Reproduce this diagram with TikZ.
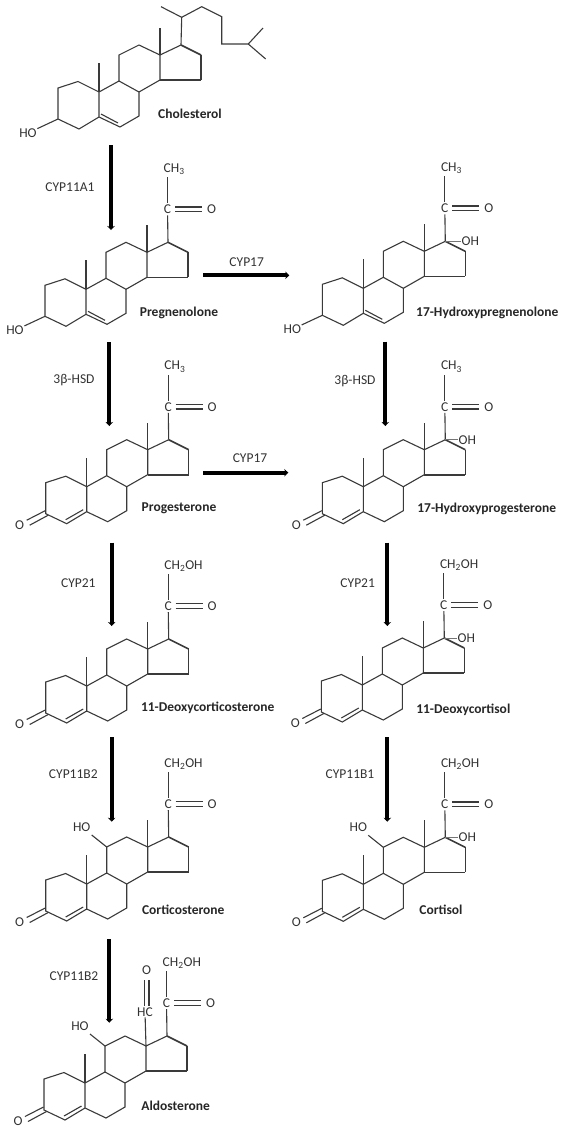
\documentclass[tikz,border=0pt]{standalone}
\usepackage{fontspec}
\setmainfont{Carlito}
\usetikzlibrary{arrows.meta, calc}
\definecolor{BondGray}{HTML}{3A3A3A}
\definecolor{TextGray}{HTML}{333333}
\tikzset{
    % Bond styles
    bond/.style={
        line width=1.1pt,
        draw=BondGray
    },
    boldbond/.style={
        line width=1.6pt,
        draw=BondGray
    },
    thinbond/.style={
        line width=0.6pt,
        draw=BondGray!70
    },
    % Text styles
    atom/.style={
        inner sep=0.5pt,
        text=TextGray,
        font=\fontsize{13.5}{15}\selectfont
    },
    enzyme/.style={
        inner sep=1pt,
        text=TextGray,
        font=\fontsize{13.5}{15}\selectfont
    },
    compound/.style={
        inner sep=1pt,
        text=black!85,
        font=\fontsize{13.5}{15}\selectfont\bfseries
    },
    % Arrow style
    arrow/.style={
        -{Stealth[length=4pt,width=7.5pt]},
        line width=3.8pt,
        draw=black
    }
}
% Four rings, origin at C10
\newcommand{\steroidcore}{
    \coordinate (c1) at (-21,-10.5);
    \coordinate (c2) at (-41,-4);
    \coordinate (c3) at (-41,27);
    \coordinate (c4) at (-20,37);
    \coordinate (c5) at (0,25);
    \coordinate (c6) at (21,35);
    \coordinate (c7) at (40,24);
    \coordinate (c8) at (40,0);
    \coordinate (c9) at (20,-11);
    \coordinate (c10) at (0,0);
    \coordinate (c11) at (20,-37);
    \coordinate (c12) at (40,-47);
    \coordinate (c13) at (61,-37);
    \coordinate (c14) at (61,-12);
    \coordinate (c15) at (102,-12);
    \coordinate (c16) at (102,-37);
    \coordinate (c17) at (82,-47);
    \draw[bond] (c10) -- (c1) -- (c2) -- (c3) -- (c4) -- (c5) -- (c10) -- (c9) -- (c8) -- (c7) -- (c6) -- (c5);
    \draw[bond] (c9) -- (c11) -- (c12) -- (c13) -- (c14) -- (c8);
    \draw[bond] (c13) -- (c17);
    \draw[bond] (c16) -- (c15);
    \draw[boldbond] (c14) -- (c15);
    \draw[boldbond] (c17) -- (c16);
    \draw[bond] (c10) -- (0,-29);
}
\newcommand{\methylc}{
    \draw[bond] (c13) -- (61,-64);
}
% 3-hydroxy with the 5,6 double bond
\newcommand{\hydroxythree}{
    \node[atom] (ho3) at (-71,41) {HO};
    \draw[bond] (c3) -- (ho3);
    \draw[bond] (2,22) -- (19,31);
}
% 3-keto with the 4,5 double bond
\newcommand{\ketothree}{
    \node[atom] (o3) at (-67,38) {O};
    \draw[bond] (-38.5,28.5) -- (-57,38.5);
    \draw[bond] (-41.5,24) -- (-60,33.5);
    \draw[bond] (-21,33) -- (-3.5,23);
}
% Carbonyl on C17, #1 is the group above it
\newcommand{\carbonyl}[1]{
    \node[atom, inner sep=1.5pt] (c20) at (81.5,-80) {C};
    \node[atom, anchor=west] (top) at (77,-120) {#1};
    \node[atom] (o20) at (125.5,-80) {O};
    \coordinate (topend) at (81.5,-112);
    \draw[bond] (c17) -- (c20);
    \draw[bond] (c20) -- (topend);
    \draw[bond] (89,-82.3) -- (116,-82.3);
    \draw[bond] (89,-77.7) -- (116,-77.7);
}
\newcommand{\hydroxyseventeen}[1]{
    \node[atom] (oh17) at (#1,-47) {OH};
    \draw[thinbond] (c17) -- (oh17);
}
\newcommand{\hydroxyeleven}{
    \node[atom] (ho11) at (-5,-57) {HO};
    \draw[bond] (c11) -- (5,-49);
}
\begin{document}
\begin{tikzpicture}[x=1pt, y=-1pt]
    \useasboundingbox (0,0) rectangle (561,1128);

    % Left column
    \begin{scope}[shift={(99,92)}, name prefix=chol-]
        \steroidcore
        \methylc
        \hydroxythree
        \draw[bond] (c17) -- (82.7,-74.7) -- (62,-85.3);
        \draw[bond] (82.7,-74.7) -- (102.7,-85.3) -- (122.7,-75.3) -- (122.7,-48) -- (149.3,-48) -- (164,-64);
        \draw[bond] (149.3,-48) -- (166.7,-33);
    \end{scope}
    \begin{scope}[shift={(86,289.3)}, name prefix=preg-]
        \steroidcore
        \methylc
        \hydroxythree
        \carbonyl{CH\textsubscript{3}}
    \end{scope}
    \begin{scope}[shift={(86.7,486.7)}, name prefix=prog-]
        \steroidcore
        \methylc
        \ketothree
        \carbonyl{CH\textsubscript{3}}
    \end{scope}
    \begin{scope}[shift={(86.7,686)}, name prefix=doc-]
        \steroidcore
        \methylc
        \ketothree
        \carbonyl{CH\textsubscript{2}OH}
    \end{scope}
    \begin{scope}[shift={(86.7,884)}, name prefix=cort-]
        \steroidcore
        \methylc
        \ketothree
        \carbonyl{CH\textsubscript{2}OH}
        \hydroxyeleven
    \end{scope}
    \begin{scope}[shift={(85,1083)}, name prefix=aldo-]
        \steroidcore
        \ketothree
        \carbonyl{CH\textsubscript{2}OH}
        \hydroxyeleven
        \node[atom] (hc) at (60,-70.7) {HC};
        \node[atom] (o18) at (61.7,-112.7) {O};
        \draw[bond] (c13) -- (hc);
        \draw[bond] (59.3,-103) -- (59.3,-77);
        \draw[bond] (64,-103) -- (64,-77);
    \end{scope}

    % Right column
    \begin{scope}[shift={(363.3,288.3)}, name prefix=ohpreg-]
        \steroidcore
        \methylc
        \hydroxythree
        \carbonyl{CH\textsubscript{3}}
        \hydroxyseventeen{107}
    \end{scope}
    \begin{scope}[shift={(363.3,486.7)}, name prefix=ohprog-]
        \steroidcore
        \methylc
        \ketothree
        \carbonyl{CH\textsubscript{3}}
        \hydroxyseventeen{104}
    \end{scope}
    \begin{scope}[shift={(362.3,685)}, name prefix=dcortisol-]
        \steroidcore
        \methylc
        \ketothree
        \carbonyl{CH\textsubscript{2}OH}
        \hydroxyseventeen{104}
    \end{scope}
    \begin{scope}[shift={(363.3,884.3)}, name prefix=cortisol-]
        \steroidcore
        \methylc
        \ketothree
        \carbonyl{CH\textsubscript{2}OH}
        \hydroxyseventeen{104}
        \hydroxyeleven
    \end{scope}

    % Compound names
    \node[compound] (lchol) at (190,113.7) {Cholesterol};
    \node[compound] (lpreg) at (179,312.7) {Pregnenolone};
    \node[compound] (lprog) at (179,508.3) {Progesterone};
    \node[compound] (ldoc) at (207.7,707.7) {11-Deoxycorticosterone};
    \node[compound] (lcort) at (183.3,910) {Corticosterone};
    \node[compound] (laldo) at (175.7,1106) {Aldosterone};
    \node[compound] (lohpreg) at (487.3,312.7) {17-Hydroxypregnenolone};
    \node[compound] (lohprog) at (486.7,509.3) {17-Hydroxyprogesterone};
    \node[compound] (ldcortisol) at (463.3,710) {11-Deoxycortisol};
    \node[compound] (lcortisol) at (441,910) {Cortisol};

    % Enzymes
    \node[enzyme] (e1) at (70,186.7) {CYP11A1};
    \node[enzyme] (e2) at (74,380) {3β-HSD};
    \node[enzyme] (e3) at (246.7,261.7) {CYP17};
    \node[enzyme] (e4) at (250,457.7) {CYP17};
    \node[enzyme] (e5) at (78.3,583.3) {CYP21};
    \node[enzyme] (e6) at (73.3,774.3) {CYP11B2};
    \node[enzyme] (e7) at (74,975.7) {CYP11B2};
    \node[enzyme] (e8) at (355,380.7) {3β-HSD};
    \node[enzyme] (e9) at (357.7,583.3) {CYP21};
    \node[enzyme] (e10) at (350,774.3) {CYP11B1};

    % Arrow ends
    \coordinate (a1s) at (111,145);
    \coordinate (a1e) at (111,230);
    \coordinate (a2s) at (109.3,342);
    \coordinate (a2e) at (109.3,426);
    \coordinate (a3s) at (111.7,542.7);
    \coordinate (a3e) at (111.7,626);
    \coordinate (a4s) at (111.7,737);
    \coordinate (a4e) at (111.7,821.7);
    \coordinate (a5s) at (109.3,939);
    \coordinate (a5e) at (109.3,1022.7);
    \coordinate (a6s) at (385.3,341.7);
    \coordinate (a6e) at (385.3,426);
    \coordinate (a7s) at (387.3,542.7);
    \coordinate (a7e) at (387.3,626);
    \coordinate (a8s) at (387.3,737.3);
    \coordinate (a8e) at (387.3,821.7);
    \coordinate (a9s) at (203.3,275.3);
    \coordinate (a9e) at (289.3,275.3);
    \coordinate (a10s) at (203.3,472.7);
    \coordinate (a10e) at (288.3,472.7);

    \draw[arrow] (a1s) -- (a1e);
    \draw[arrow] (a2s) -- (a2e);
    \draw[arrow] (a3s) -- (a3e);
    \draw[arrow] (a4s) -- (a4e);
    \draw[arrow] (a5s) -- (a5e);
    \draw[arrow] (a6s) -- (a6e);
    \draw[arrow] (a7s) -- (a7e);
    \draw[arrow] (a8s) -- (a8e);
    \draw[arrow] (a9s) -- (a9e);
    \draw[arrow] (a10s) -- (a10e);
\end{tikzpicture}
\end{document}
